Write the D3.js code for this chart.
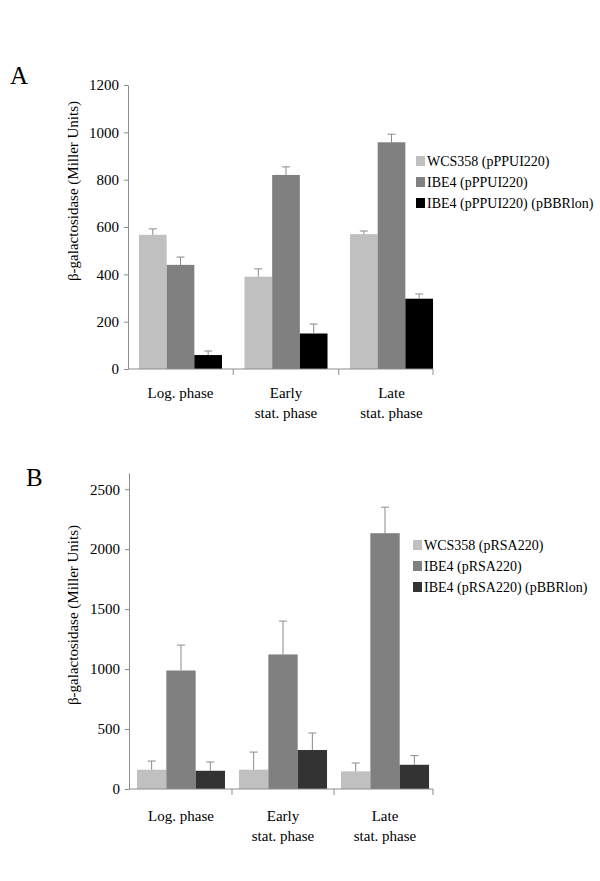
<!DOCTYPE html>
<html>
<head>
<meta charset="utf-8">
<script src="https://cdn.jsdelivr.net/npm/d3@7"></script>
<style>
  body { margin: 0; background: #fff; }
  text { font-family: "Liberation Serif", "Times New Roman", serif; fill: #000; }
</style>
</head>
<body>
<script>
// categories (multi-line labels)
const phases = [['Log. phase'], ['Early', 'stat. phase'], ['Late', 'stat. phase']]

// panel A
const seriesA = ['WCS358 (pPPUI220)', 'IBE4 (pPPUI220)', 'IBE4 (pPPUI220) (pBBRlon)']
const valuesA = [[567, 390, 570], [440, 820, 958], [59, 150, 297]]
const errorsA = [[25, 33, 13], [33, 34, 34], [17, 40, 20]]
const ticksA = [0, 200, 400, 600, 800, 1000, 1200]

// panel B
const seriesB = ['WCS358 (pRSA220)', 'IBE4 (pRSA220)', 'IBE4 (pRSA220) (pBBRlon)']
const valuesB = [[161, 161, 147], [988, 1122, 2133], [152, 325, 202]]
const errorsB = [[72, 147, 70], [212, 278, 217], [73, 142, 76]]
const ticksB = [0, 500, 1000, 1500, 2000, 2500]

const svg = d3.select('body').append('svg')
  .attr('width', 600)
  .attr('height', 881)

function panel(o) {
  const g = svg.append('g')
  const y = d3.scaleLinear().domain([0, o.yMax]).range([o.bottom, o.top])
  const x = d3.scaleBand().domain(d3.range(phases.length))
    .range([o.left, o.right]).paddingInner(o.padIn).paddingOuter(o.padOut)
  const xs = d3.scaleBand().domain(d3.range(o.series.length))
    .range([0, x.bandwidth()])

  // bars
  o.series.forEach((s, si) => {
    const rows = o.values[si].map((v, i) => ({i, v, e: o.errors[si][i]}))
    g.selectAll(null).data(rows).enter().append('rect')
      .attr('x', d => x(d.i) + xs(si))
      .attr('y', d => y(d.v))
      .attr('width', xs.bandwidth())
      .attr('height', d => y(0) - y(d.v))
      .attr('fill', o.colors[si])
    // error bars (upper only)
    const cx = d => x(d.i) + xs(si) + xs.bandwidth() / 2
    g.selectAll(null).data(rows).enter().append('line')
      .attr('x1', cx).attr('x2', cx)
      .attr('y1', d => y(d.v)).attr('y2', d => y(d.v + d.e))
      .attr('stroke', '#8a8a8a')
    g.selectAll(null).data(rows).enter().append('line')
      .attr('x1', d => cx(d) - 4).attr('x2', d => cx(d) + 4)
      .attr('y1', d => y(d.v + d.e)).attr('y2', d => y(d.v + d.e))
      .attr('stroke', '#8a8a8a')
  })

  // y axis
  const yAxis = d3.axisLeft(y).tickValues(o.ticks).tickFormat(d3.format('d'))
    .tickSize(4).tickPadding(5).tickSizeOuter(0)
  const ya = g.append('g').attr('transform', `translate(${o.left},0)`).call(yAxis)
  ya.selectAll('path, line').attr('stroke', '#8c8c8c')
  ya.selectAll('text').attr('font-size', 15).attr('fill', '#000')

  // x axis line with boundary ticks
  const step = x.step()
  const bounds = d3.range(1, phases.length).map(i => x(i) - step * o.padIn / 2).concat([o.axisEnd])
  g.append('line')
    .attr('x1', o.left).attr('x2', o.axisEnd)
    .attr('y1', y(0)).attr('y2', y(0))
    .attr('stroke', '#8c8c8c')
  g.selectAll(null).data(bounds).enter().append('line')
    .attr('x1', d => d).attr('x2', d => d)
    .attr('y1', y(0)).attr('y2', y(0) + 6)
    .attr('stroke', '#8c8c8c')

  // category labels
  phases.forEach((lines, i) => {
    lines.forEach((t, li) => {
      g.append('text')
        .attr('x', x(i) + x.bandwidth() / 2)
        .attr('y', y(0) + o.labelOff + li * 20)
        .attr('text-anchor', 'middle')
        .attr('font-size', 15)
        .text(t)
    })
  })

  // y label
  g.append('text')
    .attr('transform', `translate(${o.yLabelX},${o.yLabelY}) rotate(-90)`)
    .attr('text-anchor', 'middle')
    .attr('font-size', 15)
    .text('β-galactosidase (Miller Units)')

  // panel letter
  g.append('text')
    .attr('x', o.letterX).attr('y', o.letterY)
    .attr('font-size', 25)
    .text(o.letter)

  // legend
  const lg = g.append('g').attr('transform', `translate(${o.legX},${o.legY})`)
  o.series.forEach((s, si) => {
    lg.append('rect')
      .attr('x', 0).attr('y', si * 21)
      .attr('width', 9).attr('height', 10)
      .attr('fill', o.colors[si])
    lg.append('text')
      .attr('x', 11).attr('y', si * 21 + 9.5)
      .attr('font-size', 14)
      .text(s)
  })
}

panel({
  letter: 'A', letterX: 10, letterY: 84,
  series: seriesA, values: valuesA, errors: errorsA, ticks: ticksA,
  colors: ['#c0c0c0', '#808080', '#000000'],
  yMax: 1200, top: 85, bottom: 369,
  left: 128, right: 444, padIn: 0.213, padOut: 0.104, axisEnd: 433,
  labelOff: 29, yLabelX: 78, yLabelY: 191,
  legX: 416, legY: 156
})

panel({
  letter: 'B', letterX: 26, letterY: 486,
  series: seriesB, values: valuesB, errors: errorsB, ticks: ticksB,
  colors: ['#c0c0c0', '#808080', '#333333'],
  yMax: 2635, top: 473, bottom: 789,
  left: 129, right: 437, padIn: 0.137, padOut: 0.078, axisEnd: 433,
  labelOff: 32, yLabelX: 78, yLabelY: 615,
  legX: 413, legY: 540
})
</script>
</body>
</html>
